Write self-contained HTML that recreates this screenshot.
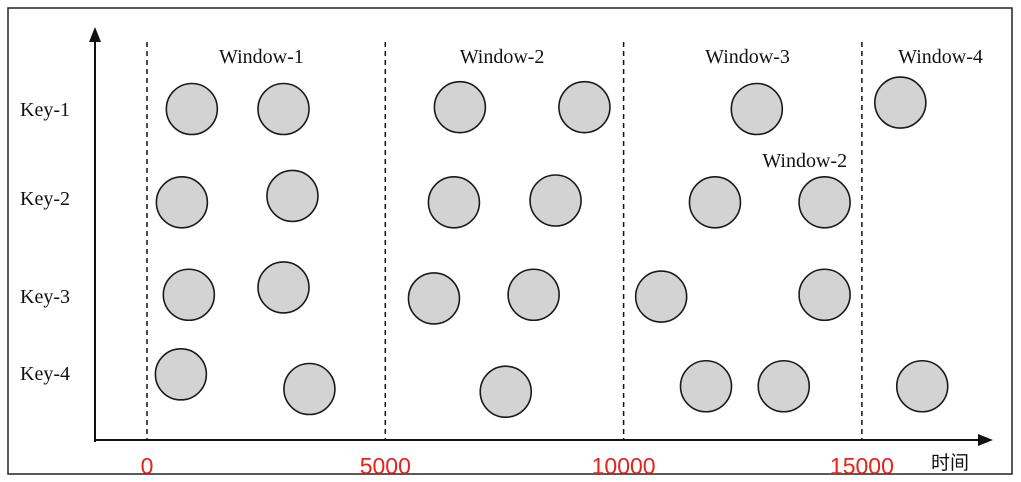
<!DOCTYPE html>
<html><head><meta charset="utf-8"><style>
html,body{margin:0;padding:0;background:#fff;}
svg{display:block;}
</style></head><body>
<svg width="1021" height="482" viewBox="0 0 1021 482">
<rect x="8" y="8" width="1004" height="466" fill="none" stroke="#222" stroke-width="1.5"/>
<g id="axes">
<line x1="95" y1="442" x2="95" y2="38" stroke="#111" stroke-width="2"/>
<polygon points="95,27 89,42 101,42" fill="#111"/>
<line x1="95" y1="440" x2="980" y2="440" stroke="#111" stroke-width="2"/>
<polygon points="993,440 978,434 978,446" fill="#111"/>
<text x="950" y="469" font-family="'Liberation Sans','Noto Sans CJK SC',sans-serif" font-size="19" text-anchor="middle" fill="#111">时间</text>
</g>
<g id="grid"></g>
<g id="marks"></g>
<script>
const keyLabels = ["Key-1","Key-2","Key-3","Key-4"];
const tickValues = [0,5000,10000,15000];
const tickLabels = ["0","5000","10000","15000"];
const windowLabels = ["Window-1","Window-2","Window-3","Window-4"];
const windowLabelTimes = [2400,7450,12600,16650];
const extraLabel = "Window-2";
const extraLabelTime = 13800;
const extraLabelLane = 1.56;
const pointTimes = [
 [941,2864,6565,9178,12795,15806],
 [732,3052,6440,8572,11917,14217],
 [878,2864,6021,8112,10788,14217],
 [711,3408,7527,11729,13360,16266]
];
const pointLanes = [
 [1,1,0.98,0.98,1,0.93],
 [2.02,1.95,2.02,2.0,2.02,2.02],
 [3.03,2.95,3.07,3.03,3.05,3.03],
 [3.9,4.06,4.09,4.03,4.03,4.03]
];
const NS="http://www.w3.org/2000/svg";
const xS = v => 147 + v*0.04766;
const yS = l => 109 + (l-1)*91.5;
const grid=document.getElementById('grid'), marks=document.getElementById('marks');
function mk(tag,attrs,parent,text){const e=document.createElementNS(NS,tag);for(const k in attrs)e.setAttribute(k,attrs[k]);if(text!==undefined)e.textContent=text;parent.appendChild(e);return e;}
tickValues.forEach((v,i)=>{
 const l=mk('line',{x1:xS(v),x2:xS(v),y1:42,y2:440,stroke:'#111','stroke-width':1.5,'stroke-dasharray':'5,4'},grid);
 
 
 const t=mk('text',{x:xS(v),y:474,'font-family':'Liberation Sans, sans-serif','font-size':23,'text-anchor':'middle',fill:'#e8211a'},grid,tickLabels[i]);
 
 
});
windowLabels.forEach((w,i)=>{
 const t=mk('text',{x:xS(windowLabelTimes[i]),y:63,'font-family':'Liberation Serif, serif','font-size':20,'text-anchor':'middle',fill:'#111'},grid,w);
 
 
});
const ex=mk('text',{x:xS(extraLabelTime),y:yS(extraLabelLane)+7,'font-family':'Liberation Serif, serif','font-size':20,'text-anchor':'middle',fill:'#111'},grid,extraLabel);


keyLabels.forEach((k,i)=>{
 const t=mk('text',{x:20,y:[116,205,303,380][i],'font-family':'Liberation Serif, serif','font-size':20,fill:'#111'},grid,k);
 
 
});
pointTimes.forEach((row,r)=>{
 row.forEach((t,j)=>{
  const c=mk('circle',{cx:xS(t),cy:yS(pointLanes[r][j]),r:25.5,fill:'#d3d3d3',stroke:'#1a1a1a','stroke-width':1.6},marks);
  
  
 });
});
</script>
</svg>
</body></html>
